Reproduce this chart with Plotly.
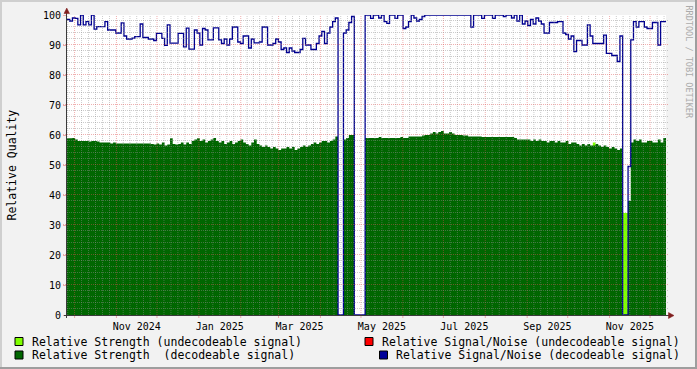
import calendar
from datetime import datetime, timedelta
import plotly.graph_objects as go

# ---------------- data ----------------
T_START = datetime(2024, 9, 25, 9, 36)
T_END = datetime(2025, 12, 12, 18, 30)

sn_decodeable = [
    98.5, 98, 99, 98.9, 96.7, 100, 96.7, 97.8, 96.7, 100,
    95.3, 96.1, 96.1, 96.1, 97.8, 95, 95, 95, 94, 94,
    97.4, 93, 92, 92, 92.3, 92.8, 92.8, 97, 92.5, 92.5,
    92, 92, 91.5, 93.9, 93.9, 92.2, 89.9, 96.7, 90.6, 90.6,
    90.6, 93.9, 93.9, 89.4, 95.6, 88.6, 88.6, 95, 94, 90,
    95.5, 95, 91.7, 91.7, 95.7, 95.7, 91.7, 90.5, 92, 90,
    92, 96, 96, 91, 90.5, 93, 93, 89, 92, 90.7,
    90.7, 91, 96, 96, 90, 90, 90.5, 92, 91, 88.5,
    89, 87.5, 89, 88, 87.5, 87.5, 88.5, 92.2, 90, 90,
    88.5, 88.5, 90.5, 93, 94.5, 90.5, 94, 96, 97.8, 99,
    0, 0, 94, 95, 97.5, 99.5, 0, 0, 0, 0,
    100, 100, 98.9, 100, 100, 99, 100, 97.8, 97.2, 100,
    100, 98.9, 100, 100, 95.5, 96, 97.8, 100, 99, 98,
    98.5, 99.5, 100, 100, 100, 100, 100, 100, 100, 100,
    100, 100, 100, 100, 100, 100, 100, 100, 100, 96,
    100, 100, 100, 98.9, 100, 100, 100, 98.9, 100, 100,
    100, 99.5, 100, 100, 99, 100, 98, 100, 97, 98,
    96.5, 98.5, 97, 99, 98, 97, 94, 94, 97.5, 97.5,
    97.5, 97.8, 97.8, 94, 93.5, 92, 93, 87.8, 91.5, 91.5,
    90, 90, 96.7, 93, 90.5, 90.5, 90.5, 90.5, 93.3, 87.2,
    87.2, 86.5, 86.5, 84.5, 93, 0, 0, 49.5, 91.7, 97.8,
    96, 97.8, 97.8, 96, 95.5, 95.5, 97.5, 97.5, 90, 97.8, 97.8,
]

strength_decodeable = [
    58.9, 58.9, 59, 58.5, 58, 58, 58, 58, 57.8, 58,
    58, 57.8, 57.5, 57.5, 57.5, 57.5, 57.2, 57.5, 57.2, 57.2,
    57.2, 57.2, 57.2, 57.2, 57.2, 57.2, 57.2, 57.2, 57.2, 57.2,
    57.2, 57, 56.8, 57.2, 56.8, 57.5, 56.5, 56.8, 58.9, 57,
    56.8, 57, 57.5, 56.8, 57.5, 57, 58, 58.5, 58.9, 58,
    58.5, 57.5, 58, 58.5, 59, 58, 57.5, 58, 57, 57.5,
    58, 57, 57.5, 58, 58.5, 57.5, 57, 56.5, 57.5, 58.5,
    57, 56.5, 56, 56.5, 56, 55.5, 56, 55.5, 55, 55.5,
    55.5, 56, 55.5, 56, 55, 55.5, 56, 56.5, 56, 56.5,
    57, 57.5, 57, 57.5, 58, 58, 57.5, 58, 58.5, 59.5,
    0, 0, 58.5, 59, 60, 60, 0, 0, 0, 0,
    59, 59, 59, 59, 59, 59.3, 59, 59, 59, 59,
    59, 59, 59, 59.3, 59, 59, 59.5, 59.5, 59.5, 59.5,
    59.5, 59.8, 60, 60, 60.5, 61, 60.5, 61, 61.3, 60.5,
    60.5, 61, 60.5, 60, 60, 60, 59.8, 59.8, 59.5, 59.5,
    59.5, 59.5, 59.5, 59.3, 59.3, 59.3, 59.3, 59.3, 59.3, 59.3,
    59.3, 59.3, 59.3, 59.3, 59.3, 59, 58.5, 58.5, 58.5, 58.5,
    58.5, 58, 58.5, 58, 58.5, 58, 58, 57.5, 58, 58,
    57.5, 58, 57.5, 57.5, 58, 57, 57.5, 57.5, 57, 56.5,
    57, 56.5, 57, 56.5, 56.5, 57, 56.5, 56, 56.5, 56,
    55.5, 56, 55.5, 55, 55.5, 0, 0, 38, 57.5, 58.5,
    58, 58.5, 57.5, 57.5, 58, 58, 57.5, 57.5, 58.5, 57.5, 59,
]

# undecodeable strength: nonzero only where the light-green bars appear
strength_undecodeable = [0] * 221
strength_undecodeable[194] = 57.5
strength_undecodeable[205] = 34
strength_undecodeable[206] = 34

# undecodeable signal/noise: no data in this period
sn_undecodeable = [None] * 221

x_tick_labels = ["Nov 2024", "Jan 2025", "Mar 2025", "May 2025",
                 "Jul 2025", "Sep 2025", "Nov 2025"]
x_tick_months = [(2024, 11), (2025, 1), (2025, 3), (2025, 5),
                 (2025, 7), (2025, 9), (2025, 11)]
y_ticks = list(range(0, 101, 10))

legend_items = [
    ("Relative Strength (undecodeable signal)", "#80FF00"),
    ("Relative Strength\u00a0 (decodeable signal)", "#006600"),
    ("Relative Signal/Noise (undecodeable signal)", "#FF0000"),
    ("Relative Signal/Noise (decodeable signal)", "#000099"),
]

# ---------------- geometry ----------------
W, H = 697, 369
PL, PR, PT, PB = 67, 666, 15, 315
FONT = "DejaVu Sans Mono"

def px(x):
    return (x - PL) / (PR - PL)

def py(y):
    return (PB - y) / (PB - PT)

n = len(sn_decodeable)
step = (T_END - T_START) / n
times = [T_START + step * i for i in range(n + 1)]

def ext(vals):
    return list(vals) + [vals[-1]]

fig = go.Figure()
fig.add_trace(go.Scatter(x=times, y=ext(strength_undecodeable), mode="lines",
                         line=dict(width=0, shape="hv"), fill="tozeroy",
                         fillcolor="#80FF00", hoverinfo="skip"))
fig.add_trace(go.Scatter(x=times, y=ext(strength_decodeable), mode="lines",
                         line=dict(width=0, shape="hv"), fill="tozeroy",
                         fillcolor="#006600", hoverinfo="skip"))
fig.add_trace(go.Scatter(x=times, y=ext(sn_undecodeable), mode="lines",
                         line=dict(width=1.3, shape="hv", color="#FF0000"),
                         hoverinfo="skip"))
fig.add_trace(go.Scatter(x=times, y=ext(sn_decodeable), mode="lines",
                         line=dict(width=1.3, shape="hv", color="#000090"),
                         hoverinfo="skip"))

shapes = []
GRID = "rgba(143,143,143,0.45)"
MGRID = "rgba(222,79,79,0.45)"
DASH = "1px,1px"

# month boundaries + minor subdivisions
months = []
y, m = 2024, 10
while datetime(y, m, 1) < T_END:
    months.append((y, m))
    m += 1
    if m == 13:
        y, m = y + 1, 1
for (yy, mm) in [(2024, 9)] + months:
    start = datetime(yy, mm, 1)
    ndays = calendar.monthrange(yy, mm)[1]
    for k in range(1, 6):
        t = start + timedelta(days=ndays * k / 6)
        if T_START < t < T_END:
            shapes.append(dict(type="line", xref="x", yref="paper", x0=t, x1=t,
                               y0=0, y1=1, layer="above",
                               line=dict(color=GRID, width=1, dash=DASH)))
for (yy, mm) in months:
    t = datetime(yy, mm, 1)
    shapes.append(dict(type="line", xref="x", yref="paper", x0=t, x1=t,
                       y0=0, y1=1, layer="above",
                       line=dict(color=MGRID, width=1, dash=DASH)))
    shapes.append(dict(type="line", xref="x", yref="paper", x0=t, x1=t,
                       y0=0, y1=py(318), layer="above",
                       line=dict(color=MGRID, width=1)))
HALF = 0.5 / 3.0  # half a pixel in data units, keeps 1px lines crisp
for v in range(2, 100, 2):
    if v % 10 == 0:
        continue
    shapes.append(dict(type="line", xref="paper", yref="y", x0=0, x1=px(669),
                       y0=v + HALF, y1=v + HALF, layer="above",
                       line=dict(color=GRID, width=1, dash=DASH)))
for v in range(10, 101, 10):
    shapes.append(dict(type="line", xref="paper", yref="y", x0=px(63), x1=px(669),
                       y0=v + HALF, y1=v + HALF, layer="above",
                       line=dict(color=MGRID, width=1, dash=DASH)))

AXIS = "#3A3A3A"
ARROW = "#801F1F"
# axes
shapes.append(dict(type="line", xref="paper", yref="paper", x0=px(66.5), x1=px(66.5),
                   y0=py(318), y1=py(10), layer="above", line=dict(color=AXIS, width=1)))
shapes.append(dict(type="line", xref="paper", yref="paper", x0=px(64), x1=px(669),
                   y0=py(315.5), y1=py(315.5), layer="above", line=dict(color=AXIS, width=1)))
# arrows
shapes.append(dict(type="path", xref="paper", yref="paper", layer="above",
                   path=f"M {px(64)} {py(13.5)} L {px(69.5)} {py(13.5)} L {px(66.75)} {py(8)} Z",
                   fillcolor=ARROW, line=dict(color=ARROW, width=0.5)))
shapes.append(dict(type="path", xref="paper", yref="paper", layer="above",
                   path=f"M {px(668.5)} {py(312.5)} L {px(668.5)} {py(318.5)} L {px(674)} {py(315.5)} Z",
                   fillcolor=ARROW, line=dict(color=ARROW, width=0.5)))

# frame shades
SHADEA = "#CFCFCF"
SHADEB = "#9E9E9E"
shapes.append(dict(type="rect", xref="paper", yref="paper", x0=px(0), x1=px(W),
                   y0=py(0), y1=py(2), line=dict(width=0), fillcolor=SHADEA, layer="above"))
shapes.append(dict(type="rect", xref="paper", yref="paper", x0=px(0), x1=px(2),
                   y0=py(0), y1=py(H), line=dict(width=0), fillcolor=SHADEA, layer="above"))
shapes.append(dict(type="rect", xref="paper", yref="paper", x0=px(W - 2), x1=px(W),
                   y0=py(0), y1=py(H), line=dict(width=0), fillcolor=SHADEB, layer="above"))
shapes.append(dict(type="rect", xref="paper", yref="paper", x0=px(0), x1=px(W),
                   y0=py(H - 2), y1=py(H), line=dict(width=0), fillcolor=SHADEB, layer="above"))

# legend
annotations = []
leg_pos = [(15, 341.5, 30), (15, 355, 30), (365, 341.5, 380), (379.5, 355, 394)]
for (label, color), (sx, cy, tx) in zip(legend_items, leg_pos):
    shapes.append(dict(type="rect", xref="paper", yref="paper",
                       x0=px(sx), x1=px(sx + 8), y0=py(cy - 4), y1=py(cy + 4),
                       fillcolor=color, line=dict(color="#000000", width=1), layer="above"))
    annotations.append(dict(text=label, xref="paper", yref="paper", x=px(tx), y=py(cy),
                            xanchor="left", yanchor="middle", showarrow=False,
                            font=dict(family=FONT, size=11.5, color="#000000")))

annotations.append(dict(text="Relative Quality", xref="paper", yref="paper",
                        x=px(11.5), y=py(165), textangle=-90, showarrow=False,
                        xanchor="center", yanchor="middle",
                        font=dict(family=FONT, size=11.5, color="#000000")))
annotations.append(dict(text="RRDTOOL / TOBI OETIKER", xref="paper", yref="paper",
                        x=px(688.5), y=py(62), textangle=90, showarrow=False,
                        xanchor="center", yanchor="middle",
                        font=dict(family=FONT, size=8.5, color="#ABABAB")))

label_vals = []
for (yy, mm) in x_tick_months:
    ndays = calendar.monthrange(yy, mm)[1]
    label_vals.append(datetime(yy, mm, 1) + timedelta(days=ndays / 2))

fig.update_layout(
    width=W, height=H, autosize=False,
    margin=dict(l=PL, r=W - PR, t=PT, b=H - PB, pad=0, autoexpand=False),
    paper_bgcolor="#F2F2F2", plot_bgcolor="#FFFFFF",
    showlegend=False,
    shapes=shapes, annotations=annotations,
    xaxis=dict(type="date", range=[T_START, T_END], autorange=False, automargin=False,
               showgrid=False, zeroline=False,
               showline=False, tickmode="array", tickvals=label_vals,
               ticktext=x_tick_labels, ticks="", ticklabelstandoff=4,
               tickfont=dict(family=FONT, size=10, color="#000000"), fixedrange=True),
    yaxis=dict(range=[0, 100], autorange=False, automargin=False,
               showgrid=False, zeroline=False, showline=False,
               tickmode="array", tickvals=y_ticks, ticktext=[str(v) for v in y_ticks],
               ticks="outside", ticklen=3, tickcolor=MGRID,
               tickfont=dict(family=FONT, size=10, color="#000000"), fixedrange=True),
)

fig.write_html(
    "out.html",
    config={"displayModeBar": False, "staticPlot": True},
    post_script="document.body.style.margin='0';document.body.style.padding='0';"
                "document.body.style.overflow='hidden';",
)
